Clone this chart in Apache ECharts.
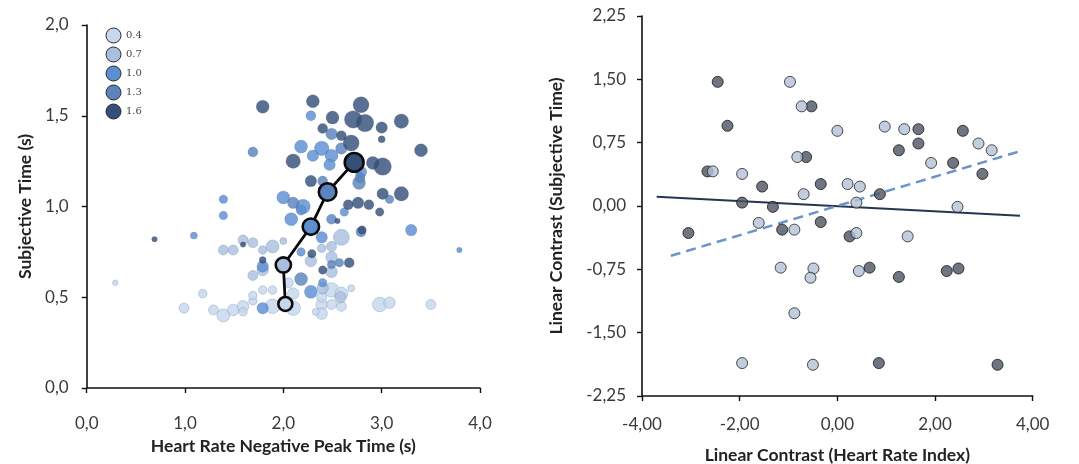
<!DOCTYPE html>
<html>
<head>
<meta charset="utf-8">
<script src="https://cdn.jsdelivr.net/npm/echarts@6/dist/echarts.min.js"></script>
<style>
  html, body { margin: 0; padding: 0; background: #fff; }
  #chart { width: 1079px; height: 464px; }
</style>
</head>
<body>
<div id="chart"></div>
<script>
// ---- Left panel: trials per duration level, [peak time (s), subjective time (s), weight]
const levelNames = ['0.4', '0.7', '1.0', '1.3', '1.6'];

const level04 = [
  [0.99,0.44,4],[1.29,0.43,4],[1.39,0.40,6],[1.49,0.43,5],[1.59,0.45,5],[1.69,0.48,3],
  [1.89,0.45,7],[2.10,0.44,7],[2.39,0.46,5],[2.39,0.41,5],[2.39,0.50,4],[2.49,0.46,4],
  [2.59,0.45,4],[2.98,0.46,7],[3.08,0.47,5],[3.50,0.46,4],[1.79,0.54,3],[1.89,0.54,3],
  [2.49,0.54,7],[2.59,0.52,6],[2.10,0.52,5],[2.69,0.55,2],[1.18,0.52,3],[0.29,0.58,1],
  [1.69,0.51,3],[2.05,0.58,4],[2.33,0.42,2],[1.59,0.42,3]
];
const level07 = [
  [1.39,0.76,4],[1.49,0.76,4],[1.59,0.815,4],[1.69,0.80,4],[1.79,0.76,3],[1.89,0.78,6],
  [2.00,0.81,2],[2.59,0.83,8],[2.39,0.77,3],[2.49,0.72,5],[2.28,0.70,5],[1.69,0.62,4],
  [1.79,0.65,5],[2.49,0.64,5],[2.49,0.78,4],[2.58,0.50,5],[2.40,0.55,5]
];
const level10 = [
  [1.39,1.04,3],[1.39,0.95,3],[2.18,1.33,6],[2.39,1.32,7],[2.30,1.28,5],[2.49,1.28,6],
  [2.47,1.23,5],[2.28,1.50,4],[2.00,1.05,6],[2.20,1.00,7],[2.08,0.93,6],[2.18,0.98,4],
  [2.39,0.83,5],[3.30,0.87,5],[2.18,0.75,3],[2.28,0.53,6],[2.40,0.58,3],[1.79,0.44,5],
  [1.79,0.67,5],[1.09,0.84,2],[3.79,0.76,1],[2.62,0.97,3],[2.79,1.19,5]
];
const level13 = [
  [1.69,1.30,4],[2.49,1.40,5],[2.59,1.32,5],[2.77,1.13,6],[3.08,1.04,3],[2.10,1.02,5],
  [2.18,0.60,6],[2.49,0.93,4],[2.49,0.68,3],[2.57,0.69,3],[2.79,0.86,4],[2.78,1.16,4],
  [2.40,1.14,4]
];
const level16 = [
  [1.79,1.55,6],[2.30,1.58,6],[2.50,1.49,6],[2.79,1.56,8],[2.71,1.48,9],[2.83,1.46,9],
  [2.40,1.43,4],[2.59,1.39,4],[3.00,1.435,5],[3.00,1.37,2],[3.20,1.47,7],[3.40,1.31,6],
  [2.69,1.35,8],[2.10,1.25,7],[2.91,1.24,6],[3.01,1.22,9],[2.28,1.14,5],[3.01,1.07,5],
  [3.20,1.07,7],[2.66,1.01,4],[2.76,1.02,5],[2.87,1.01,4],[2.98,0.97,3],[2.55,0.92,1],
  [2.29,0.74,3],[2.40,0.65,3],[2.67,0.69,4],[1.79,0.705,2],[1.59,0.79,1],[0.69,0.82,1],
  [2.80,0.87,3]
];

// Mean per duration level (connected path)
const meanX = [2.02, 2.00, 2.28, 2.45, 2.72];
const meanY = [0.463, 0.678, 0.889, 1.08, 1.243];

// ---- Right panel: linear contrasts per participant
const darkPts = [
  [-2.45,1.47],[-2.25,0.95],[-2.66,0.41],[-3.05,-0.32],[-1.95,0.04],[-1.54,0.23],
  [-1.32,-0.01],[-1.13,-0.28],[-0.53,1.18],[-0.64,0.58],[-0.34,0.26],[-0.34,-0.19],
  [0.25,-0.36],[0.66,-0.73],[0.87,0.14],[0.85,-1.86],[1.26,0.66],[1.26,-0.84],
  [1.66,0.91],[1.66,0.74],[2.24,-0.77],[2.48,-0.74],[2.37,0.51],[2.57,0.89],
  [2.97,0.38],[3.28,-1.88]
];
const lightPts = [
  [-2.55,0.41],[-1.95,0.38],[-1.95,-1.86],[-1.61,-0.20],[-1.16,-0.73],[-0.97,1.47],
  [-0.73,1.18],[-0.82,0.58],[-0.69,0.14],[-0.88,-0.28],[-0.88,-1.27],[-0.49,-0.74],
  [-0.55,-0.85],[-0.50,-1.88],[0.00,0.89],[0.21,0.26],[0.39,0.04],[0.46,0.23],
  [0.39,-0.32],[0.44,-0.77],[0.97,0.94],[1.37,0.91],[1.44,-0.36],[1.92,0.51],
  [2.46,-0.01],[2.89,0.74],[3.16,0.66]
];
const fitDark = [[-3.70,0.11],[3.74,-0.115]];
const fitLight = [[-3.41,-0.59],[3.69,0.64]];

const levelColors = ['#c6d7ee', '#a9bfdf', '#5b8fd2', '#5a84bd', '#34507a'];
const levelData = [level04, level07, level10, level13, level16];
const tickFont = 'Lato, "Open Sans", sans-serif';
const comma = d => v => v.toFixed(d).replace('.', ',');
const bubbleSize = v => 4 + 1.5 * v[2];

const axisLine = { lineStyle: { color: '#111', width: 1.6 } };
const axisTick = { length: 5, lineStyle: { color: '#111', width: 1.4 } };
const nameStyle = { fontFamily: tickFont, fontWeight: 'bold', fontSize: 17.5, color: '#222' };
const labelStyle = { fontFamily: tickFont, fontSize: 17, color: '#3a3a3a' };

const series = levelData.map((d, i) => ({
  name: levelNames[i],
  type: 'scatter',
  xAxisIndex: 0, yAxisIndex: 0,
  data: d,
  symbolSize: bubbleSize,
  itemStyle: {
    color: levelColors[i],
    opacity: 0.82,
    borderColor: i < 2 ? 'rgba(120,140,170,0.55)' : 'rgba(40,60,90,0.25)',
    borderWidth: 0.8
  },
  z: 2
}));

series.push({
  type: 'line',
  xAxisIndex: 0, yAxisIndex: 0,
  data: meanX.map((x, i) => ({
    value: [x, meanY[i]],
    symbolSize: 14 + i * 1.2,
    itemStyle: { color: levelColors[i], borderColor: '#0a0a0a', borderWidth: 2.6, opacity: 1 }
  })),
  symbol: 'circle',
  lineStyle: { color: '#0a0a0a', width: 2.8 },
  z: 5
});

series.push({
  type: 'scatter', xAxisIndex: 1, yAxisIndex: 1,
  data: darkPts, symbolSize: 11,
  itemStyle: { color: '#4b5463', borderColor: '#151515', borderWidth: 1 }, z: 4
});
series.push({
  type: 'scatter', xAxisIndex: 1, yAxisIndex: 1,
  data: lightPts, symbolSize: 11,
  itemStyle: { color: '#b3c2d7', borderColor: '#222', borderWidth: 1 }, z: 4
});
series.push({
  type: 'line', xAxisIndex: 1, yAxisIndex: 1, data: fitDark, symbol: 'none',
  lineStyle: { color: '#263650', width: 2 }, z: 3
});
series.push({
  type: 'line', xAxisIndex: 1, yAxisIndex: 1, data: fitLight, symbol: 'none',
  lineStyle: { color: '#6b95c9', width: 2.5, type: [10, 6] }, z: 3
});

const chart = echarts.init(document.getElementById('chart'), null, { renderer: 'canvas' });
chart.setOption({
  animation: false,
  backgroundColor: '#fff',
  legend: {
    data: levelNames,
    orient: 'vertical',
    left: 100.5, top: 22.5,
    itemWidth: 15, itemHeight: 15, itemGap: 3,
    icon: 'circle',
    itemStyle: { borderColor: '#2a2a2a', borderWidth: 1, opacity: 1 },
    textStyle: { fontFamily: '"DejaVu Serif", serif', fontSize: 10, color: '#444' }
  },
  grid: [
    { left: 86.7, right: 599, top: 25, bottom: 76, outerBoundsMode: 'none', containLabel: false },
    { left: 642, right: 46.3, top: 16, bottom: 68, outerBoundsMode: 'none', containLabel: false }
  ],
  xAxis: [
    {
      gridIndex: 0, type: 'value', min: 0, max: 4, interval: 1, offset: 7,
      name: 'Heart Rate Negative Peak Time (s)', nameLocation: 'middle', nameGap: 41,
      nameTextStyle: nameStyle,
      axisLine, axisTick, splitLine: { show: false },
      axisLabel: Object.assign({ formatter: comma(1), margin: 20 }, labelStyle)
    },
    {
      gridIndex: 1, type: 'value', min: -4, max: 4, interval: 2,
      name: 'Linear Contrast (Heart Rate Index)', nameLocation: 'middle', nameGap: 50,
      nameTextStyle: nameStyle,
      axisLine: { onZero: false, lineStyle: axisLine.lineStyle }, axisTick, splitLine: { show: false },
      axisLabel: Object.assign({ formatter: comma(2), margin: 20 }, labelStyle)
    }
  ],
  yAxis: [
    {
      gridIndex: 0, type: 'value', min: 0, max: 2, interval: 0.5,
      name: 'Subjective Time (s)', nameLocation: 'middle', nameGap: 52,
      nameTextStyle: nameStyle,
      axisLine, axisTick, splitLine: { show: false },
      axisLabel: Object.assign({ formatter: comma(1), margin: 18 }, labelStyle)
    },
    {
      gridIndex: 1, type: 'value', min: -2.25, max: 2.25, interval: 0.75,
      name: 'Linear Contrast (Subjective Time)', nameLocation: 'middle', nameGap: 77,
      nameTextStyle: nameStyle,
      axisLine: { onZero: false, lineStyle: axisLine.lineStyle }, axisTick, splitLine: { show: false },
      axisLabel: Object.assign({ formatter: comma(2), margin: 16 }, labelStyle)
    }
  ],
  series
});
</script>
</body>
</html>
